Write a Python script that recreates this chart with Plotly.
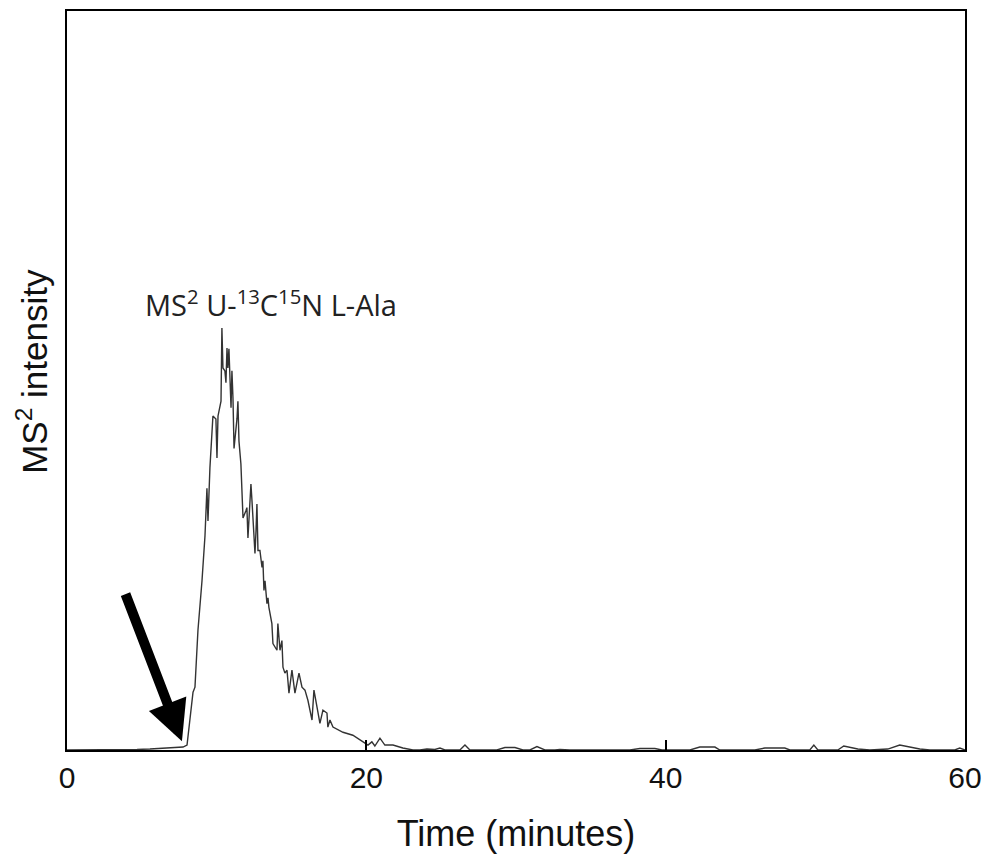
import plotly.graph_objects as go

# Time (minutes)
time_min = [0, 2.20, 4.21, 4.68, 5.54, 6.21, 7.21, 7.75, 8.02, 8.22, 8.42, 8.55, 8.75, 9.02,
            9.22, 9.35, 9.42, 9.55, 9.75, 9.95, 10.02, 10.09, 10.29, 10.35, 10.42, 10.55,
            10.62, 10.69, 10.75, 10.82, 10.96, 11.02, 11.09, 11.16, 11.36, 11.42, 11.49,
            11.62, 11.69, 11.76, 11.96, 12.02, 12.09, 12.22, 12.29, 12.36, 12.42, 12.56,
            12.63, 12.69, 12.76, 12.89, 13.03, 13.09, 13.16, 13.23, 13.36, 13.43, 13.49,
            13.63, 13.69, 13.76, 14.03, 14.09, 14.23, 14.36, 14.43, 14.56, 14.70, 14.83,
            15.03, 15.23, 15.50, 15.70, 15.90, 16.10, 16.37, 16.50, 16.70, 16.90, 17.10,
            17.37, 17.43, 17.57, 17.77, 18.44, 19.10, 19.77, 20.11, 20.37, 20.57, 20.91,
            21.24, 21.78, 22.44, 23.11, 23.58, 24.05, 24.58, 24.92, 25.25, 26.25, 26.59,
            26.92, 28.72, 29.26, 29.93, 30.46, 30.93, 31.40, 31.93, 32.60, 32.93, 33.60,
            37.61, 38.28, 39.28, 39.75, 41.62, 42.28, 43.29, 43.62, 45.96, 46.63, 47.96,
            48.30, 49.63, 49.90, 50.17, 51.50, 51.90, 52.84, 53.64, 54.84, 55.64, 56.98,
            57.65, 59.32, 59.65, 60.0]

# MS2 intensity (relative units, 0-100 full scale)
intensity = [0, 0, 0, 0.07, 0.13, 0.2, 0.27, 0.40, 0.67, 4.05, 7.83, 8.50, 16.2, 22.9,
             29.0, 35.4, 31.0, 38.2, 45.2, 44.8, 39.5, 45.2, 47.2, 57.1, 51.7, 51.3,
             49.7, 54.4, 51.7, 54.3, 46.3, 51.3, 47.6, 40.8, 44.9, 47.2, 41.8,
             38.7, 34.7, 31.4, 32.4, 32.8, 28.7, 32.8, 36.0, 33.7, 31.0, 26.6,
             29.7, 33.3, 27.0, 27.0, 24.7, 25.6, 21.6, 22.9, 19.8, 20.6, 19.3,
             17.5, 17.1, 14.4, 13.5, 17.1, 13.5, 14.8, 11.2, 10.4, 10.8, 7.7,
             10.8, 7.7, 10.4, 8.5, 8.1, 6.7, 4.05, 8.1, 5.8, 3.6, 5.4,
             5.0, 3.1, 4.05, 3.1, 2.4, 2.0, 1.1, 0.67, 1.1, 0.54, 1.6,
             0.67, 0.67, 0.27, 0, 0, 0.13, 0.07, 0.27, 0, 0, 0.67,
             0, 0, 0.34, 0.34, 0, 0, 0.47, 0, 0, 0.07, 0,
             0, 0.2, 0.2, 0, 0, 0.40, 0.40, 0, 0, 0.27, 0.27,
             0, 0, 0.67, 0, 0, 0.54, 0.13, 0, 0.13, 0.67, 0.13,
             0, 0, 0.27, 0]

x_ticks = [0, 20, 40, 60]
x_tick_labels = ["0", "20", "40", "60"]

peak_label = "MS<sup>2</sup> U-<sup>13</sup>C<sup>15</sup>N L-Ala"
peak_label_pos = (13.66, 60.5)
arrow_tip = (7.68, 1.2)
arrow_tail = (3.87, 21.3)
y_title = "MS<sup>2</sup> intensity"

fig = go.Figure()
fig.add_trace(go.Scatter(
    x=time_min, y=intensity, mode="lines",
    line=dict(color="#333333", width=1.4),
    showlegend=False, hoverinfo="skip",
))

fig.add_annotation(
    x=peak_label_pos[0], y=peak_label_pos[1], xref="x", yref="y",
    text=peak_label, showarrow=False, xanchor="center", yanchor="middle",
    font=dict(family="Open Sans, Noto Sans, sans-serif", size=29, color="#222222"),
)
fig.add_annotation(
    x=arrow_tip[0], y=arrow_tip[1], ax=arrow_tail[0], ay=arrow_tail[1],
    xref="x", yref="y", axref="x", ayref="y",
    text="", showarrow=True, arrowhead=2, arrowwidth=10, arrowsize=0.8,
    arrowcolor="black",
)
# y-axis title placed as rotated text
fig.add_annotation(
    x=-0.039, y=0.513, xref="paper", yref="paper",
    text=y_title, showarrow=False, textangle=-90,
    xanchor="center", yanchor="middle",
    font=dict(family="Liberation Sans, Arial, sans-serif", size=35, color="#111111"),
)

# page body has an 8px margin, so the figure is sized/shifted to compensate
fig.update_layout(
    width=982, height=853,
    margin=dict(l=59, r=25, t=1, b=111),
    plot_bgcolor="white", paper_bgcolor="white",
    font=dict(family="Liberation Sans, Arial, sans-serif", color="#111111"),
)
fig.update_xaxes(
    range=[0, 60], tickvals=x_ticks, ticktext=x_tick_labels,
    ticks="inside", ticklen=10, tickwidth=1.5, tickcolor="black",
    showline=True, linecolor="black", linewidth=2, mirror=True,
    showgrid=False, zeroline=False,
    tickfont=dict(size=30),
    title=dict(text="Time (minutes)", font=dict(size=36), standoff=28),
)
fig.update_yaxes(
    range=[0, 100], showticklabels=False, ticks="",
    showline=True, linecolor="black", linewidth=2, mirror=True,
    showgrid=False, zeroline=False,
)

fig.write_html("out.html")
